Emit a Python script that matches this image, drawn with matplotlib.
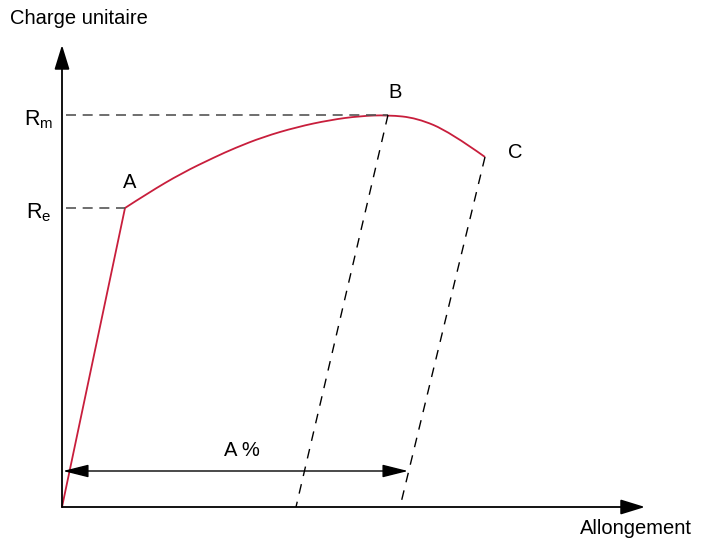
import matplotlib.pyplot as plt
from matplotlib.path import Path
from matplotlib.patches import PathPatch

# schematic tensile curve, units = pixels from origin
elastic_x = [0, 63]
elastic_y = [0, 299]
curve_x = [63, 86, 120, 153, 173, 201, 235, 268, 298, 326, 355, 388, 423]
curve_y = [299, 314, 334, 350, 359, 370, 380, 387, 391, 392, 389, 375, 350]
Re = 299
Rm = 392
point_A = (63, 299)
point_B = (326, 392)
point_C = (423, 350)
foot_B = 234
foot_C = 338
elong_y = 36

plt.rcParams['font.family'] = ['Liberation Sans', 'DejaVu Sans']

fig = plt.figure(figsize=(7.1, 5.42), dpi=100)
ax = fig.add_axes([0, 0, 1, 1])
ax.set_xlim(-62, 648)
ax.set_ylim(-35, 507)
ax.axis('off')

red = '#c81e3c'
ax.plot(elastic_x, elastic_y, color=red, lw=1.3, solid_capstyle='round')

# smooth the plastic part: read points used as quadratic control points
pts = list(zip(curve_x, curve_y))
verts = [pts[0]]
codes = [Path.MOVETO]
for i in range(1, len(pts) - 1):
    mid = ((pts[i][0] + pts[i + 1][0]) / 2, (pts[i][1] + pts[i + 1][1]) / 2)
    if i == len(pts) - 2:
        mid = pts[-1]
    verts += [pts[i], mid]
    codes += [Path.CURVE3, Path.CURVE3]
ax.add_patch(PathPatch(Path(verts, codes), facecolor='none', edgecolor=red, lw=1.3))

# reference dashes
ax.plot([4, point_A[0]], [Re, Re], color='#555555', ls=(0, (6, 4)), lw=1.2)
ax.plot([4, point_B[0]], [Rm, Rm], color='#555555', ls=(0, (6, 4)), lw=1.2)
ax.plot([point_B[0], foot_B], [point_B[1], 0], color='black', ls=(0, (7, 6)), lw=1.0)
ax.plot([point_C[0], foot_C], [point_C[1], 0], color='black', ls=(0, (7, 6)), lw=1.0)

# axes arrows
arr = dict(arrowstyle='-|>,head_length=0.68,head_width=0.21', color='black', lw=1.3,
           mutation_scale=22, shrinkA=0, shrinkB=0)
ax.annotate('', xy=(0, 462), xytext=(0, 0), arrowprops=arr)
ax.annotate('', xy=(583, 0), xytext=(0, 0), arrowprops=arr)
ax.annotate('', xy=(346, elong_y), xytext=(1, elong_y),
            arrowprops=dict(arrowstyle='<|-|>,head_length=0.72,head_width=0.18',
                            color='black', lw=1.0, mutation_scale=22,
                            shrinkA=0, shrinkB=0))

fs = 14.5
ax.text(-52, 489, 'Charge unitaire', fontsize=fs, va='center', ha='left')
ax.text(630, -21, 'Allongement', fontsize=fs, va='center', ha='right')
ax.text(180, 57, 'A %', fontsize=fs, va='center', ha='center')
ax.text(point_A[0] + 5, point_A[1] + 25, 'A', fontsize=fs, va='center', ha='center')
ax.text(point_B[0] + 7, point_B[1] + 23, 'B', fontsize=fs, va='center', ha='center')
ax.text(point_C[0] + 30, point_C[1] + 5, 'C', fontsize=fs, va='center', ha='center')
ax.text(-23, Rm - 5, r'R$_\mathregular{m}$', fontsize=fs + 1, va='center', ha='center')
ax.text(-23, Re - 5, r'R$_\mathregular{e}$', fontsize=fs + 1, va='center', ha='center')

fig.savefig('out.png', dpi=100)
